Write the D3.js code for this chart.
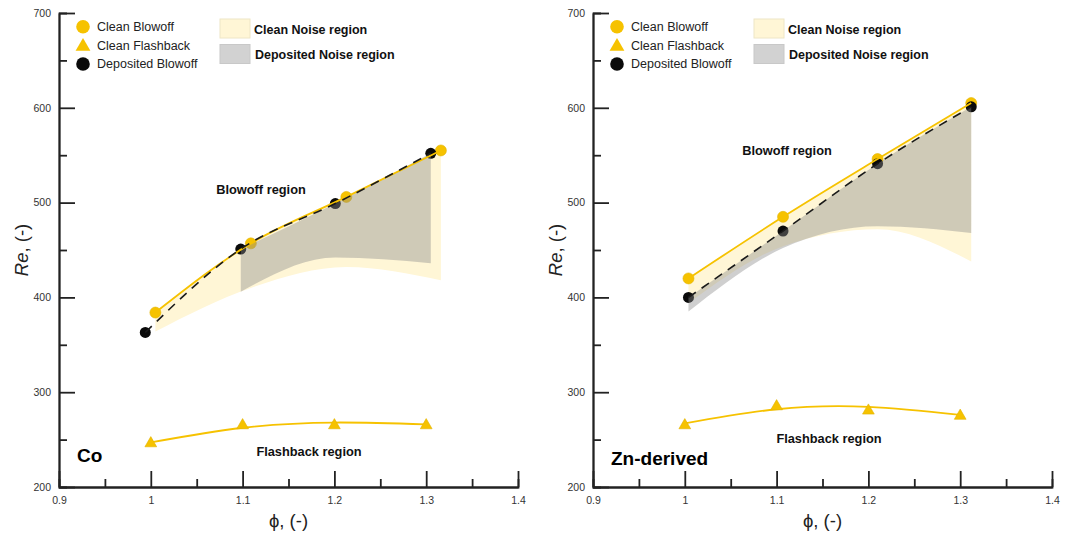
<!DOCTYPE html>
<html>
<head>
<meta charset="utf-8">
<script src="https://cdn.jsdelivr.net/npm/d3@7"></script>
<style>
  body { margin: 0; background: #fff; }
  text { font-family: "Liberation Sans", Arial, sans-serif; }
</style>
</head>
<body>
<script>
// axis ticks
var phiTicks = [0.9, 1, 1.1, 1.2, 1.3, 1.4];
var phiMinor = [0.95, 1.05, 1.15, 1.25, 1.35];
var reTicks = [200, 300, 400, 500, 600, 700];
var reMinor = [250, 350, 450, 550, 650];

// Co panel
var coCleanPhi = [1.005, 1.109, 1.213, 1.316];
var coCleanRe = [384, 457, 506, 555];
var coCleanNoiseLow = [364, 410, 432, 418];
var coDepPhi = [0.994, 1.098, 1.201, 1.305];
var coDepRe = [363, 451, 499, 552];
var coDepNoiseLow = [null, 406, 442, 436];
var coFlashPhi = [1.0, 1.1, 1.2, 1.3];
var coFlashRe = [246, 265, 265, 265];
var coFlashFit = [247, 262.5, 268, 266];

// Zn-derived panel
var znCleanPhi = [1.004, 1.107, 1.21, 1.312];
var znCleanRe = [420, 485, 546, 605];
var znCleanNoiseLow = [394, 454, 472, 438];
var znDepPhi = [1.004, 1.107, 1.21, 1.312];
var znDepRe = [400, 470, 541, 601];
var znDepNoiseLow = [385, 452, 475, 468];
var znFlashPhi = [1.0, 1.1, 1.2, 1.3];
var znFlashRe = [265, 285, 280.5, 275];
var znFlashFit = [267, 282, 284.5, 276];

var gold = "#F6C200";
var lightYellow = "#FFF6D6";

var svg = d3.select("body").append("svg")
    .attr("width", 1077)
    .attr("height", 535);

function zip(phi, hi, lo) {
    return phi.map(function(p, i){
        return {phi: p, hi: hi[i], lo: lo ? lo[i] : null};
    });
}

/**
 * Draws one panel: axes, noise regions, fits, markers, legend and labels
 */
function drawPanel(p) {
    var x0 = p.left, w = 459;
    var x = d3.scaleLinear().domain([0.9, 1.4]).range([x0, x0 + w]);
    var y = d3.scaleLinear().domain([200, 700]).range([487, 13]);
    var g = svg.append("g");

    // axes, ticks pointing inward
    var yMajor = d3.axisLeft(y).tickValues(reTicks).tickSize(-16).tickSizeOuter(0).tickPadding(8);
    var yMin = d3.axisLeft(y).tickValues(reMinor).tickSize(-8).tickFormat("");
    var xMajor = d3.axisBottom(x).tickValues(phiTicks).tickSize(-16).tickSizeOuter(0).tickPadding(10)
        .tickFormat(d3.format("~g"));
    var xMin = d3.axisBottom(x).tickValues(phiMinor).tickSize(-8).tickFormat("");

    [[yMajor, "translate(" + x0 + ",0)"], [yMin, "translate(" + x0 + ",0)"],
     [xMajor, "translate(0," + y(200) + ")"], [xMin, "translate(0," + y(200) + ")"]].forEach(function(a){
        var ax = g.append("g").attr("transform", a[1]).call(a[0]);
        ax.selectAll("path, line").attr("stroke", "#222").attr("stroke-width", 1.8);
        ax.selectAll("text").attr("fill", "#333").style("font-size", "10.5px")
            .style("font-family", "Liberation Sans, Arial, sans-serif");
    });

    var area = d3.area()
        .defined(function(d){ return d.lo != null; })
        .x(function(d){ return x(d.phi); })
        .y0(function(d){ return y(d.lo); })
        .y1(function(d){ return y(d.hi); })
        .curve(d3.curveMonotoneX);
    var line = d3.line()
        .x(function(d){ return x(d.phi); })
        .y(function(d){ return y(d.hi); })
        .curve(d3.curveMonotoneX);

    var clean = zip(p.cleanPhi, p.cleanRe, p.cleanLow);
    var dep = zip(p.depPhi, p.depRe, p.depLow);

    // clean noise region
    g.append("path").datum(clean).attr("d", area).attr("fill", lightYellow);

    // blowoff markers (sit under the deposited noise region)
    g.selectAll(".cb").data(clean).enter().append("circle")
        .attr("cx", function(d){ return x(d.phi); })
        .attr("cy", function(d){ return y(d.hi); })
        .attr("r", 5.5).attr("fill", gold).attr("stroke", "#E3B400").attr("stroke-width", 0.6);
    g.selectAll(".db").data(dep).enter().append("circle")
        .attr("cx", function(d){ return x(d.phi); })
        .attr("cy", function(d){ return y(d.hi); })
        .attr("r", 5.5).attr("fill", "#0a0a0a");

    // deposited noise region
    g.append("path").datum(dep.filter(function(d){ return d.lo != null; }))
        .attr("d", area).attr("fill", "#8c8c8c").attr("fill-opacity", 0.42);

    // blowoff fits
    g.append("path").datum(clean).attr("d", line)
        .attr("fill", "none").attr("stroke", gold).attr("stroke-width", 1.8);
    g.append("path").datum(dep).attr("d", line)
        .attr("fill", "none").attr("stroke", "#1a1a1a").attr("stroke-width", 1.6)
        .attr("stroke-dasharray", "9,7");

    // flashback fit and markers
    var flash = zip(p.flashPhi, p.flashRe);
    var flashFit = zip(p.flashPhi, p.flashFit);
    g.append("path").datum(flashFit).attr("d", line.curve(d3.curveNatural))
        .attr("fill", "none").attr("stroke", gold).attr("stroke-width", 1.8);
    g.selectAll(".fb").data(flash).enter().append("path")
        .attr("d", d3.symbol(d3.symbolTriangle).size(60))
        .attr("transform", function(d){ return "translate(" + x(d.phi) + "," + y(d.hi) + ")"; })
        .attr("fill", gold).attr("stroke", "#E3B400").attr("stroke-width", 0.6);

    // legend
    var lg = g.append("g").attr("transform", "translate(" + x0 + ",0)");
    lg.append("circle").attr("cx", 24).attr("cy", 26.7).attr("r", 6.8).attr("fill", gold);
    lg.append("path").attr("d", d3.symbol(d3.symbolTriangle).size(95))
        .attr("transform", "translate(24,46.5)").attr("fill", gold);
    lg.append("circle").attr("cx", 24).attr("cy", 64).attr("r", 6.8).attr("fill", "#0a0a0a");
    ["Clean Blowoff", "Clean Flashback", "Deposited Blowoff"].forEach(function(t, i){
        lg.append("text").attr("x", 38).attr("y", [26.7, 45.5, 64][i]).attr("dy", "0.35em")
            .style("font-size", "12.5px").attr("fill", "#222").text(t);
    });
    lg.append("rect").attr("x", 161).attr("y", 19).attr("width", 30).attr("height", 19)
        .attr("fill", lightYellow).attr("stroke", "#EEE6C6").attr("stroke-width", 1);
    lg.append("rect").attr("x", 161).attr("y", 44.5).attr("width", 30).attr("height", 19)
        .attr("fill", "#D2D2D2").attr("stroke", "#C8C8C8").attr("stroke-width", 1);
    lg.append("text").attr("x", 195).attr("y", 29.3).attr("dy", "0.35em")
        .style("font-size", "12.5px").style("font-weight", "bold").attr("fill", "#111").text("Clean Noise region");
    lg.append("text").attr("x", 196).attr("y", 54.3).attr("dy", "0.35em")
        .style("font-size", "12.5px").style("font-weight", "bold").attr("fill", "#111").text("Deposited Noise region");

    // region labels
    g.append("text").attr("x", x0 + p.blowLabel[0]).attr("y", p.blowLabel[1]).attr("dy", "0.35em")
        .attr("text-anchor", "middle").style("font-size", "12.8px").style("font-weight", "bold")
        .attr("fill", "#111").text("Blowoff region");
    g.append("text").attr("x", x0 + p.flashLabel[0]).attr("y", p.flashLabel[1]).attr("dy", "0.35em")
        .attr("text-anchor", "middle").style("font-size", "12.8px").style("font-weight", "bold")
        .attr("fill", "#111").text("Flashback region");
    g.append("text").attr("x", x0 + 18).attr("y", p.nameY).attr("dy", "0.35em")
        .style("font-size", "19px").style("font-weight", "bold").attr("fill", "#000").text(p.name);

    // axis titles
    var yt = g.append("text").attr("transform", "translate(" + (x0 - 37) + ",250) rotate(-90)")
        .attr("text-anchor", "middle").attr("dy", "0.35em").style("font-size", "18.5px").attr("fill", "#222");
    yt.append("tspan").style("font-style", "italic").text("Re");
    yt.append("tspan").text(", (-)");
    g.append("text").attr("x", x0 + w / 2).attr("y", 521).attr("dy", "0.35em")
        .attr("text-anchor", "middle").style("font-size", "18.5px").attr("fill", "#222").text("\u03D5, (-)");
}

drawPanel({
    left: 59, name: "Co", nameY: 455,
    cleanPhi: coCleanPhi, cleanRe: coCleanRe, cleanLow: coCleanNoiseLow,
    depPhi: coDepPhi, depRe: coDepRe, depLow: coDepNoiseLow,
    flashPhi: coFlashPhi, flashRe: coFlashRe, flashFit: coFlashFit,
    blowLabel: [202, 190], flashLabel: [250, 451.5]
});
drawPanel({
    left: 593, name: "Zn-derived", nameY: 458,
    cleanPhi: znCleanPhi, cleanRe: znCleanRe, cleanLow: znCleanNoiseLow,
    depPhi: znDepPhi, depRe: znDepRe, depLow: znDepNoiseLow,
    flashPhi: znFlashPhi, flashRe: znFlashRe, flashFit: znFlashFit,
    blowLabel: [194, 151], flashLabel: [236, 438.3]
});
</script>
</body>
</html>
